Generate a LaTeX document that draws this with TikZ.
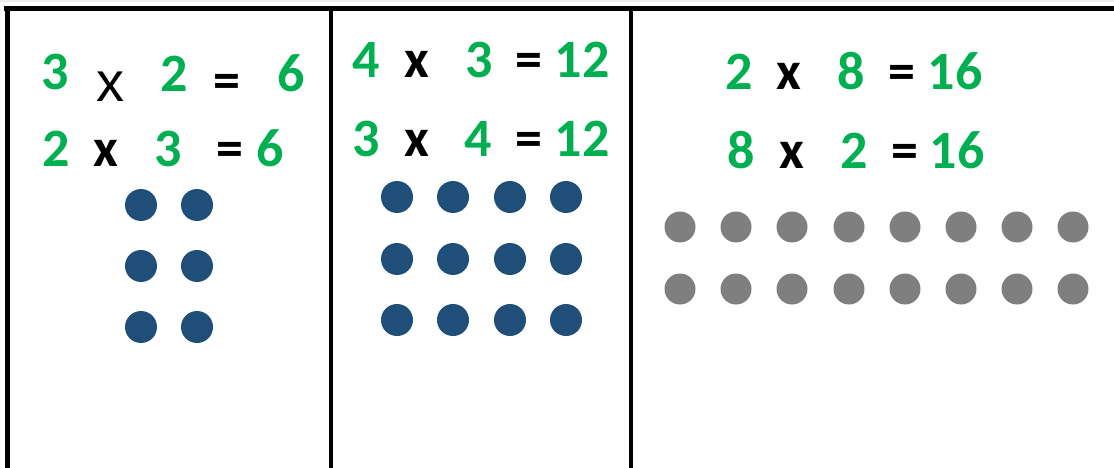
\documentclass[tikz,border=0pt]{standalone}
\usepackage{fontspec}
\setmainfont{Carlito}
\newfontfamily\arialf{Liberation Sans}
\definecolor{eqgreen}{HTML}{00B050}
\definecolor{dotblue}{HTML}{1F4E79}
\definecolor{dotgray}{HTML}{7F7F7F}
\begin{document}
\begin{tikzpicture}[x=1pt,y=-1pt,
  num/.style={anchor=base,inner sep=0pt,text=eqgreen,font=\fontsize{54}{54}\selectfont\bfseries},
  op/.style={anchor=base,inner sep=0pt,text=black,font=\fontsize{54}{54}\selectfont\bfseries},
  thinop/.style={anchor=base,inner sep=0pt,text=black,font=\fontsize{56}{56}\selectfont\arialf},
  border/.style={line width=5pt,black},
  divider/.style={line width=4.5pt,black},
  bdot/.style={circle,fill=dotblue,minimum size=32pt,inner sep=0pt},
  gdot/.style={circle,fill=dotgray,minimum size=31pt,inner sep=0pt}]
\useasboundingbox (0,0) rectangle (1114,468);
\fill[gray!15] (0,0) rectangle (1114,2);
% frame
\draw[border] (4,8.5) -- (1114,8.5);
\draw[border] (7,6) -- (7,468);
\draw[divider] (331,8) -- (331,468);
\draw[divider] (631,8) -- (631,468);
% panel 1
\node[num] (a1) at (55,90) {3};
\node[thinop] (a2) at (110,102) {x};
\node[num] (a3) at (174,92) {2};
\node[op] (a4) at (227,99) {=};
\node[num] (a5) at (291,92) {6};
\node[num] (b1) at (56,167) {2};
\node[op] (b2) at (106,167) {x};
\node[num] (b3) at (168,167) {3};
\node[op] (b4) at (230,167) {=};
\node[num] (b5) at (270,167) {6};
\foreach \c/\x in {1/141,2/197}
  \foreach \r/\y in {1/205,2/266,3/327}
    \node[bdot] (p\c\r) at (\x,\y) {};
% panel 2
\node[num] (c1) at (366,78) {4};
\node[op] (c2) at (417,78) {x};
\node[num] (c3) at (479,78) {3};
\node[op] (c4) at (529,78) {=};
\node[num] (c5) at (582,78) {12};
\node[num] (d1) at (366,157) {3};
\node[op] (d2) at (417,157) {x};
\node[num] (d3) at (478,157) {4};
\node[op] (d4) at (529,157) {=};
\node[num] (d5) at (582,157) {12};
\foreach \c/\x in {1/397,2/453,3/510,4/566}
  \foreach \r/\y in {1/197,2/259,3/320}
    \node[bdot] (q\c\r) at (\x,\y) {};
% panel 3
\node[num] (e1) at (739,90) {2};
\node[op] (e2) at (789,90) {x};
\node[num] (e3) at (851,90) {8};
\node[op] (e4) at (902,90) {=};
\node[num] (e5) at (955,90) {16};
\node[num] (f1) at (741,168) {8};
\node[op] (f2) at (792,168) {x};
\node[num] (f3) at (854,168) {2};
\node[op] (f4) at (905,168) {=};
\node[num] (f5) at (957,168) {16};
\foreach \c/\x in {1/680,2/736,3/792,4/849,5/905,6/961,7/1017,8/1073}
  \foreach \r/\y in {1/227,2/289}
    \node[gdot] (s\c\r) at (\x,\y) {};
\end{tikzpicture}
\end{document}
